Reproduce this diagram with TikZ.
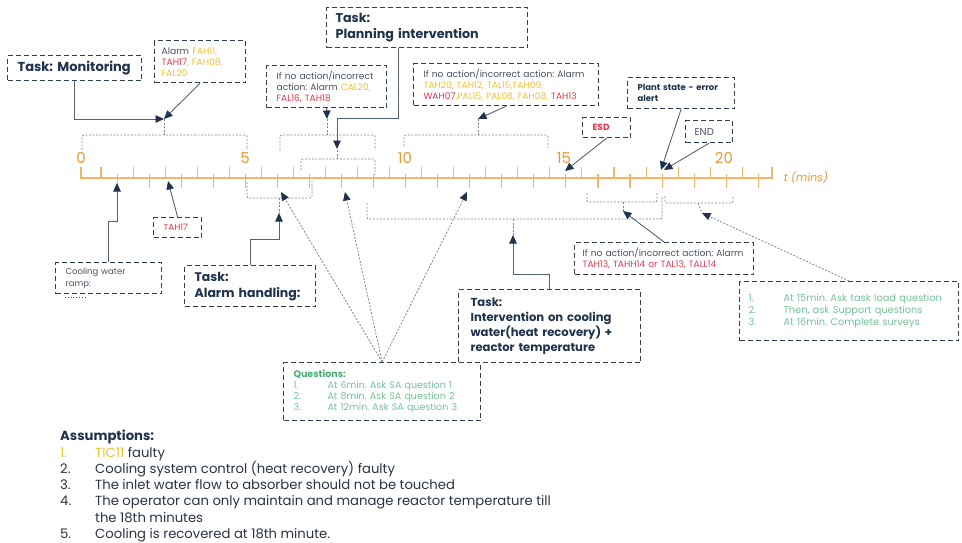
\documentclass[tikz,border=0pt]{standalone}
\usepackage{fontspec}
\setmainfont{Poppins}
\usetikzlibrary{arrows.meta}
\usetikzlibrary{calc}
\frenchspacing

\definecolor{navy}{RGB}{30,50,78}
\definecolor{boxline}{RGB}{48,64,84}
\definecolor{greytext}{RGB}{70,82,98}
\definecolor{asmtext}{RGB}{40,52,68}
\definecolor{arrline}{RGB}{85,100,115}
\definecolor{dotline}{RGB}{125,135,145}
\definecolor{axisorange}{RGB}{246,180,105}
\definecolor{numorange}{RGB}{236,150,50}
\definecolor{alyellow}{RGB}{240,192,50}
\definecolor{alred}{RGB}{232,52,72}
\definecolor{qgreen}{RGB}{70,175,115}
\definecolor{qlight}{RGB}{115,195,150}

\newcommand{\yel}[1]{\textcolor{alyellow}{#1}}
\newcommand{\rd}[1]{\textcolor{alred}{#1}}
\newcommand{\numcol}[2]{\makebox[#1][l]{#2}}

\tikzset{
  dashbox/.style={draw=boxline, line width=1.2pt, dash pattern=on 5pt off 3pt,
    anchor=north west, align=left, inner xsep=10pt, inner ysep=2pt},
  taskfont/.style={font=\fontsize{12.7}{15.5}\selectfont\bfseries, text=navy},
  smallfont/.style={font=\fontsize{9.1}{11}\selectfont, text=greytext},
  arr/.style={draw=arrline, line width=0.9pt, -{Triangle[length=8.5pt,width=7.5pt,color=navy]}},
  dotarr/.style={draw=dotline, line width=0.8pt, dash pattern=on 2pt off 1.5pt,
    -{Triangle[length=8.5pt,width=7.5pt,color=navy]}},
  brk/.style={draw=dotline, line width=0.7pt, dash pattern=on 2pt off 1.5pt, rounded corners=2pt},
  axis/.style={draw=axisorange, line width=1.1pt},
  minlabel/.style={text=numorange, font=\fontsize{15}{15}\selectfont},
}

\begin{document}
\begin{tikzpicture}[x=1pt, y=-1pt]
  \useasboundingbox (0,0) rectangle (962,543);

  % time axis
  \draw[axis] (81,167) -- (81,178) -- (772,178) -- (772,167);
  \foreach \k in {1,...,42} {
    \pgfmathsetmacro{\tx}{85+16.03*\k}
    \ifodd\k
      \draw[axis] (\tx,167) -- (\tx,178);
    \else
      \draw[axis] (\tx,174) -- (\tx,188);
    \fi
  }
  \node[minlabel] (n0) at (81,158) {0};
  \node[minlabel] (n5) at (245,158) {5};
  \node[minlabel] (n10) at (405,158) {10};
  \node[minlabel] (n15) at (564,158) {15};
  \node[minlabel] (n20) at (724,158) {20};
  \node[text=numorange, font=\fontsize{11}{11}\selectfont\itshape] (tlabel) at (806,177) {t (mins)};

  % boxes above the axis
  \node[dashbox, taskfont, font=\fontsize{13}{15}\selectfont\bfseries, text width=114pt, minimum height=25pt] (mon) at (7,55) {Task: Monitoring};
  \node[dashbox, smallfont, font=\fontsize{9.2}{11}\selectfont, inner xsep=7pt, text width=77pt, minimum height=42pt] (alarmA) at (154,40)
    {Alarm \yel{FAH11,}\\\rd{TAH17}\yel{, FAH08,}\\\yel{FAL20}};
  \node[dashbox, taskfont, inner xsep=9pt, text width=183pt, minimum height=40pt] (plan) at (326,7)
    {Task:\\Planning intervention};
  \node[dashbox, smallfont, text width=100pt, minimum height=42pt] (noactA) at (266,65)
    {If no action/incorrect\\action: Alarm \yel{CAL20,}\\\rd{FAL16, TAH18}};
  \node[dashbox, smallfont, text width=165pt, minimum height=42pt] (noactB) at (413,63)
    {If no action/incorrect action: Alarm\\\yel{TAH20, TAH12, TAL15,TAH09,}\\\rd{WAH07}\yel{,PAL15, PAL08, FAH08,} \rd{TAH13}};
  \node[dashbox, font=\fontsize{8.5}{11}\selectfont\bfseries, text=navy, text width=87pt, minimum height=31pt] (plant) at (627,77)
    {Plant state - error\\alert};
  \node[dashbox, font=\fontsize{9}{10}\selectfont\bfseries, text=alred, text width=28pt, minimum height=20pt] (esd) at (582,117) {ESD};
  \node[dashbox, font=\fontsize{10}{11}\selectfont, text=greytext, inner xsep=9pt, text width=29pt, minimum height=22pt] (endb) at (685,120) {END};

  % boxes below the axis
  \node[dashbox, font=\fontsize{8.8}{10}\selectfont, text=alred, text width=28pt, minimum height=20pt] (tah) at (153,217) {TAH17};
  \node[dashbox, smallfont, font=\fontsize{8.5}{12}\selectfont, text width=86pt, minimum height=31pt] (cool) at (55,262)
    {Cooling water\\ramp:};
  \node[dashbox, taskfont, font=\fontsize{12.5}{16}\selectfont\bfseries, text width=111pt, minimum height=41pt] (alh) at (184,265)
    {Task:\\Alarm handling:};
  \node[dashbox, taskfont, font=\fontsize{11.6}{15}\selectfont\bfseries, inner xsep=12pt, text width=158pt, minimum height=73pt] (intv) at (458,289)
    {Task:\\Intervention on cooling\\water(heat recovery) +\\reactor temperature};
  \node[dashbox, font=\fontsize{9.5}{11}\selectfont, text=qlight, text width=177pt, minimum height=58pt] (quest) at (283,362)
    {\textcolor{qgreen}{\bfseries Questions:}\\
     \numcol{34pt}{1.}At 6min. Ask SA question 1\\
     \numcol{34pt}{2.}At 8min. Ask SA question 2\\
     \numcol{34pt}{3.}At 12min. Ask SA question 3};
  \node[dashbox, smallfont, inner xsep=8pt, text width=163pt, minimum height=32pt] (noactC) at (574,242)
    {If no action/incorrect action: Alarm\\\rd{TAH13, TAHH14 or TAL13, TALL14}};
  \node[dashbox, font=\fontsize{9.8}{12}\selectfont, text=qlight, inner xsep=9pt, text width=201pt, minimum height=59pt] (survey) at (739,281)
    {\numcol{35pt}{1.}At 15min. Ask task load question\\
     \numcol{35pt}{2.}Then, ask Support questions\\
     \numcol{35pt}{3.}At 16min. Complete surveys};

  % assumptions
  \node[anchor=north west, align=left, inner sep=0pt, text=asmtext, font=\fontsize{13.2}{16.3}\selectfont] (assum) at (60,430)
    {\textcolor{navy}{\bfseries Assumptions:}\\
     \numcol{35pt}{\textcolor{alyellow}{1.}}\textcolor{alyellow}{TIC11} faulty\\
     \numcol{35pt}{2.}Cooling system control (heat recovery) faulty\\
     \numcol{35pt}{3.}The inlet water flow to absorber should not be touched\\
     \numcol{35pt}{4.}The operator can only maintain and manage reactor temperature till\\
     \hspace*{35pt}the 18th minutes\\
     \numcol{35pt}{5.}Cooling is recovered at 18th minute.};

  % brackets above the axis
  \coordinate (brA) at (164,119);
  \coordinate (brB) at (327,119);
  \coordinate (brC) at (337,149);
  \coordinate (brD) at (478,119);
  \draw[brk] (82,150) |- (247,135) -- (247,150);
  \draw[brk] (164,135) -- (brA);
  \draw[brk] (280,150) |- (375,135) -- (375,150);
  \draw[brk] (327,135) -- (brB);
  \draw[brk] (301,170) |- (375,159) -- (375,175);
  \draw[brk] (337,159) -- (brC);
  \draw[brk] (404,146) |- (548,135) -- (548,150);
  \draw[brk] (478,135) -- (brD);

  % brackets below the axis
  \coordinate (alhtip) at (279,213);
  \coordinate (intvtip) at (513,235);
  \coordinate (brG) at (623,211);
  \coordinate (brH) at (702,213);
  \draw[brk] (247,182) |- (312,198) -- (312,181);
  \draw[brk] (279,198) -- (alhtip);
  \draw[brk] (367,203) |- (662,219) -- (662,197);
  \draw[brk] (513,219) -- (intvtip);
  \draw[brk] (587,193) |- (657,202) -- (657,192);
  \draw[brk] (623,202) -- (brG);
  \draw[brk] (665,196) |- (733,203) -- (733,196);
  \draw[brk] (698,203) -- (brH);
  \draw[dotted, line width=0.8pt, greytext] ([xshift=10pt,yshift=-3pt]cool.south west) -- ++(20pt,0);

  % tips on the axis
  \coordinate (cooltip) at (117,183);
  \coordinate (tahtip) at (168,181);
  \coordinate (esdtip) at (565,171);
  \coordinate (plttip) at (661,170);
  \coordinate (endtip) at (664,170);
  \coordinate (q6) at (281,192);
  \coordinate (q8) at (345,192);
  \coordinate (q12) at (467,192);

  % connectors
  \draw[arr] (mon.south) |- (brA);
  \draw[arr] (alarmA.south) -- (brA);
  \draw[arr] (noactA.south) -- (brB);
  \draw[arr] ([xshift=72pt]plan.south west) |- ($(brC)+(0,-31)$) -- (brC);
  \draw[arr] (noactB.south) -- (brD);
  \draw[arr] (esd.south) -- (esdtip);
  \draw[arr] (plant.south) -- (plttip);
  \draw[arr] (endb.south) -- (endtip);
  \draw[arr] (cool.north) |- ($(cooltip)+(0,38)$) -- (cooltip);
  \draw[arr] (tah.north) -- (tahtip);
  \draw[arr] (alh.north) |- ($(alhtip)+(0,26)$) -- (alhtip);
  \draw[arr] (intv.north) |- ($(intvtip)+(0,39)$) -- (intvtip);
  \draw[arr] (noactC.north) -- (brG);
  \draw[dotarr] (survey.north) -- (brH);
  \draw[dotarr] (quest.north) -- (q6);
  \draw[dotarr] (quest.north) -- (q8);
  \draw[dotarr] (quest.north) -- (q12);
\end{tikzpicture}
\end{document}
